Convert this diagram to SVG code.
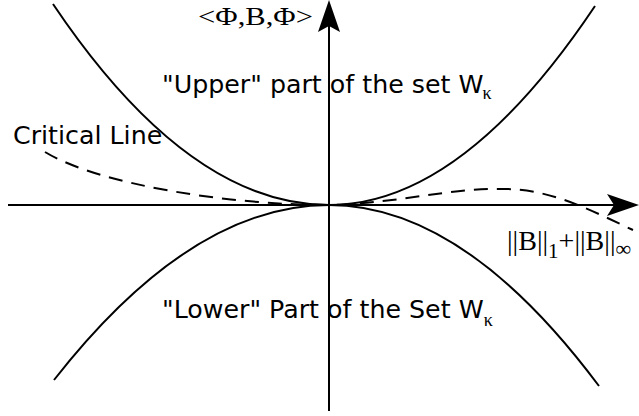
<svg xmlns="http://www.w3.org/2000/svg" width="639" height="416" viewBox="0 0 639 416">
<style>
.ax{stroke:#000;stroke-width:2;fill:none}
.cv{stroke:#000;stroke-width:2;fill:none}
.dash{stroke:#000;stroke-width:2;fill:none;stroke-dasharray:14 9}
.sans{font-family:"DejaVu Sans",sans-serif;font-size:25.3px;fill:#000}
.serif{font-family:"Liberation Serif","Times New Roman",serif;fill:#000}
</style>
<rect width="639" height="416" fill="#fff"/>
<g id="connectors">
<path class="ax" d="M8,205 H614"/>
<path d="M639,205 L607,194 L614,205 L607,216 Z" fill="#000"/>
<path class="ax" d="M329,411 V26"/>
<path d="M329,0 L340,32 L329,26 L318,32 Z" fill="#000"/>
</g>
<g id="upper-set">
<path class="cv" d="M53,4 Q188,205 329,205 Q462,205 595,6"/>
<text class="sans" x="162" y="93">"Upper" part of the set W<tspan class="serif" font-size="18" dx="-1" dy="6">κ</tspan></text>
</g>
<g id="lower-set">
<path class="cv" d="M54,380 Q191,205 329,205 Q464,205 599,386"/>
<text class="sans" x="162" y="318">"Lower" Part of the Set W<tspan class="serif" font-size="18" dx="0" dy="8">κ</tspan></text>
</g>
<g id="critical-line">
<path class="dash" d="M45,152 C100,185 230,205 329,205 C400,203 450,188 500,189 C550,188 590,210 633,230"/>
<text class="sans" x="13" y="144">Critical Line</text>
</g>
<g id="y-label">
<text class="serif" x="198" y="25" font-size="26" textLength="115" lengthAdjust="spacingAndGlyphs">&lt;Φ,B,Φ&gt;</text>
</g>
<g id="x-label">
<text class="serif" x="507" y="250" font-size="28">||B||<tspan font-size="21" dy="8">1</tspan><tspan dy="-8">+||B||</tspan><tspan font-size="22" dy="6">∞</tspan></text>
</g>
</svg>
